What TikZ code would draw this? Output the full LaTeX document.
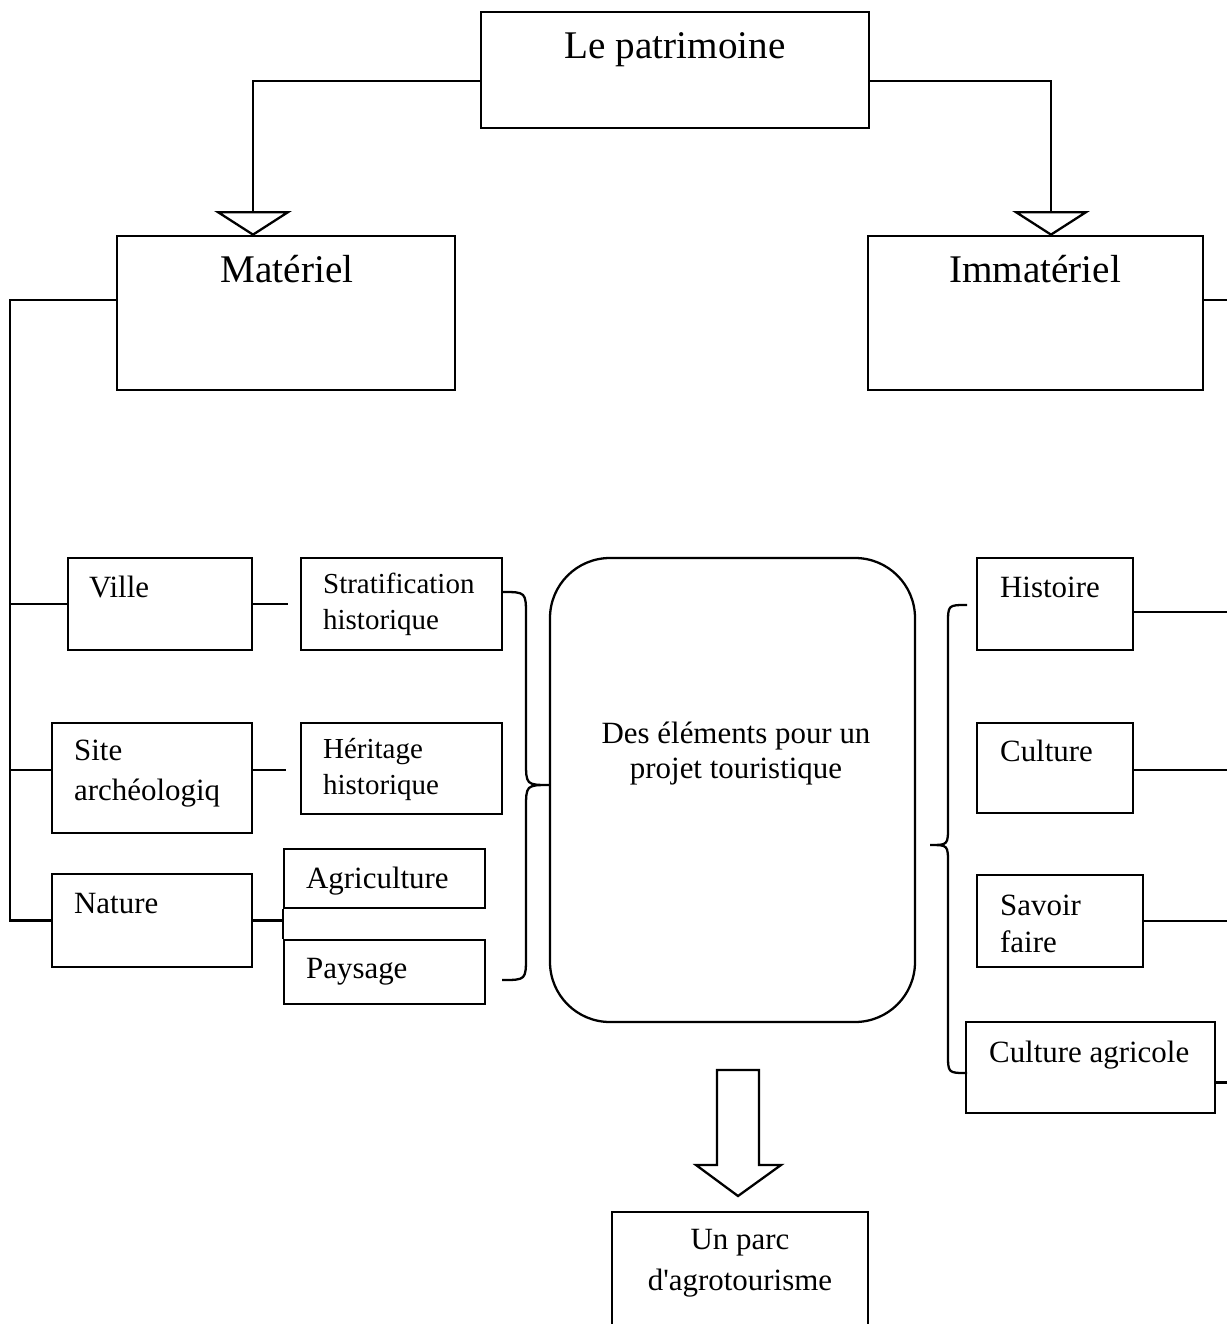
\documentclass[tikz,border=0pt]{standalone}
\usepackage{fontspec}
\setmainfont{Liberation Serif}[Ligatures=TeXOff]
\usetikzlibrary{fit,arrows.meta}

\begin{document}
\begin{tikzpicture}[x=0.02cm, y=-0.02cm, line width=1.3pt,
    box/.style={draw, inner sep=0pt},
    big/.style={inner sep=0pt, font=\fontsize{22.3}{27}\selectfont},
    mid/.style={inner sep=0pt, align=left, font=\fontsize{17.6}{22}\selectfont},
    small/.style={inner sep=0pt, align=left, font=\fontsize{16.5}{20}\selectfont},
    blockhead/.style={-{Triangle[open, width=1.55cm, length=0.5cm]}}]
    \useasboundingbox (0,0) rectangle (1227,1324);
    \clip (0,0) rectangle (1227,1324);

    % Top box
    \node[box, fit={(481,12) (869,128)}] (patrimoine) {};
    \node[big, anchor=base] (patrimoine-t) at (675,59) {Le patrimoine};

    % The two families
    \node[box, fit={(117,236) (455,390)}] (materiel) {};
    \node[big, anchor=base] (materiel-t) at (287,283) {Matériel};
    \node[box, fit={(868,236) (1203,390)}] (immateriel) {};
    \node[big, anchor=base] (immateriel-t) at (1035,283) {Immatériel};

    % Material side, first column (multi-line text sits on its last baseline)
    \node[box, fit={(68,558) (252,650)}] (ville) {};
    \node[mid, anchor=base west] (ville-t) at (88,597) {Ville};
    \node[box, fit={(52,723) (252,833)}] (site) {};
    \node[mid, anchor=base west, font=\fontsize{17.6}{22.5}\selectfont] (site-t) at (73,800) {Site\\archéologiq};
    \node[box, fit={(52,874) (252,967)}] (nature) {};
    \node[mid, anchor=base west] (nature-t) at (73,913) {Nature};

    % Material side, second column
    \node[box, fit={(301,558) (502,650)}] (strat) {};
    \node[small, anchor=base west] (strat-t) at (322,629) {Stratification\\historique};
    \node[box, fit={(301,723) (502,814)}] (heritage) {};
    \node[small, anchor=base west] (heritage-t) at (322,794) {Héritage\\historique};
    \node[box, fit={(284,849) (485,908)}] (agri) {};
    \node[mid, anchor=base west] (agri-t) at (305,888) {Agriculture};
    \node[box, fit={(284,940) (485,1004)}] (paysage) {};
    \node[mid, anchor=base west] (paysage-t) at (305,978) {Paysage};

    % Centre box
    \node[box, rounded corners=1.2cm, fit={(550,558) (915,1022)}] (elements) {};
    \node[mid, align=center, anchor=base, font=\fontsize{17.6}{19.5}\selectfont] (elements-t) at (736,778)
        {Des éléments pour un\\projet touristique};

    % Immaterial side
    \node[box, fit={(977,558) (1133,650)}] (histoire) {};
    \node[mid, anchor=base west] (histoire-t) at (999,597) {Histoire};
    \node[box, fit={(977,723) (1133,813)}] (culture) {};
    \node[mid, anchor=base west] (culture-t) at (999,761) {Culture};
    \node[box, fit={(977,875) (1143,967)}] (savoir) {};
    \node[mid, anchor=base west, font=\fontsize{17.6}{21}\selectfont] (savoir-t) at (999,952) {Savoir\\faire};
    \node[box, fit={(966,1022) (1215,1113)}] (cultagri) {};
    \node[mid, anchor=base west] (cultagri-t) at (988,1062) {Culture agricole};

    % Result box
    \node[box, fit={(612,1212) (868,1345)}] (parc) {};
    \node[mid, align=center, anchor=base, font=\fontsize{17.6}{22.8}\selectfont] (parc-t) at (740,1290)
        {Un parc\\d'agrotourisme};

    % Links from the top box
    \coordinate (matin) at (253,236);
    \coordinate (immin) at (1051,236);
    \draw[blockhead] (patrimoine.west) ++(0,11) -| (matin);
    \draw[blockhead] (patrimoine.east) ++(0,11) -| (immin);

    % Bus on the left
    \coordinate (lbus) at (10,0);
    \draw (materiel.west) ++(0,-13) -| (lbus |- nature.west) -- (nature.west);
    \draw (ville.west) -- (ville.west -| lbus);
    \draw (site.west) ++(0,-8) coordinate (s) -- (s -| lbus);

    % Stubs to the second column
    \draw (ville.east) -- ++(35,0);
    \draw (site.east) ++(0,-8) -- ++(33,0);
    \draw (nature.east) -- (nature.east -| agri.west);
    \draw (agri.south west) -- (paysage.north west);

    % Lines to the right edge
    \coordinate (rbus) at (1227,0);
    \draw (immateriel.east) ++(0,-13) coordinate (i) -- (i -| rbus);
    \draw (histoire.east) ++(0,8) coordinate (h) -- (h -| rbus);
    \draw (culture.east) ++(0,2) coordinate (c) -- (c -| rbus);
    \draw (savoir.east) -- (savoir.east -| rbus);
    \draw (cultagri.east) ++(0,15) coordinate (ca) -- (ca -| rbus);

    % Left brace
    \draw (502,592) .. controls (526,592) .. (526,616) -- (526,761)
        .. controls (526,785) .. (550,785) .. controls (526,785) .. (526,809)
        -- (526,956) .. controls (526,980) .. (502,980);

    % Right brace
    \draw (967,605) .. controls (948,605) .. (948,624) -- (948,826)
        .. controls (948,845) .. (930,845) .. controls (948,845) .. (948,864)
        -- (948,1054) .. controls (948,1073) .. (967,1073);

    % Block arrow to the result
    \draw (717,1070) -- (759,1070) -- (759,1165) -- (781,1165) -- (738,1196)
        -- (696,1165) -- (717,1165) -- cycle;
\end{tikzpicture}
\end{document}
